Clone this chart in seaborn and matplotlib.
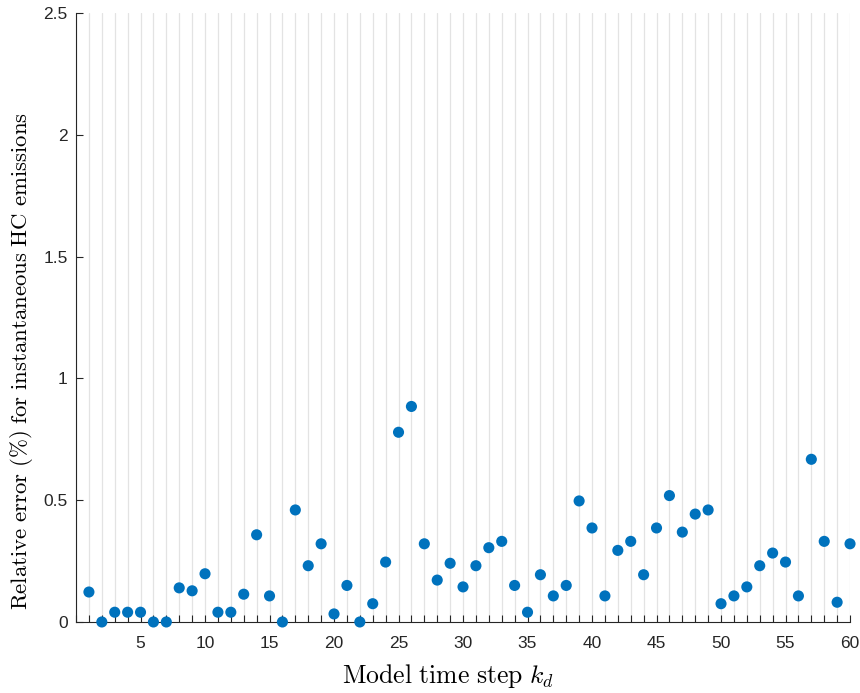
import numpy as np
import pandas as pd
import matplotlib
matplotlib.use("Agg")
import matplotlib.pyplot as plt
from matplotlib.ticker import MultipleLocator
import seaborn as sns

time_step = list(range(1, 61))
rel_error = [0.123, 0.0, 0.04, 0.04, 0.04, 0.0, 0.0, 0.14, 0.128, 0.198,
             0.04, 0.04, 0.114, 0.358, 0.107, 0.0, 0.46, 0.231, 0.321, 0.033,
             0.15, 0.0, 0.075, 0.246, 0.779, 0.885, 0.321, 0.172, 0.241, 0.144,
             0.231, 0.305, 0.331, 0.15, 0.04, 0.194, 0.107, 0.15, 0.497, 0.386,
             0.107, 0.294, 0.331, 0.194, 0.386, 0.519, 0.369, 0.443, 0.46, 0.075,
             0.107, 0.144, 0.231, 0.283, 0.246, 0.107, 0.668, 0.331, 0.081, 0.321]
x_ticks = [5, 10, 15, 20, 25, 30, 35, 40, 45, 50, 55, 60]
y_ticks = [0, 0.5, 1, 1.5, 2, 2.5]
y_tick_labels = ["0", "0.5", "1", "1.5", "2", "2.5"]

df = pd.DataFrame({"k": time_step, "err": rel_error})

sns.set_style("white")
plt.rcParams["font.family"] = ["Liberation Sans", "DejaVu Sans"]
plt.rcParams["mathtext.fontset"] = "cm"

fig = plt.figure(figsize=(8.6, 6.93), dpi=100)
ax = fig.add_axes([0.0884, 0.1025, 0.9, 0.8785])

axcol = "#262626"
ax.xaxis.set_minor_locator(MultipleLocator(1))
ax.grid(True, which="both", axis="x", color="#e3e3e3", linewidth=0.9, zorder=0)
ax.set_axisbelow(True)

sns.scatterplot(data=df, x="k", y="err", ax=ax, color="#0072BD", s=64,
                edgecolor="none", linewidth=0, zorder=3, clip_on=False)

ax.set_xlim(0, 60)
ax.set_ylim(0, 2.5)
ax.set_xticks(x_ticks)
ax.set_xticklabels([str(t) for t in x_ticks])
ax.set_yticks(y_ticks)
ax.set_yticklabels(y_tick_labels)

for s in ["top", "right"]:
    ax.spines[s].set_visible(False)
for s in ["left", "bottom"]:
    ax.spines[s].set_color(axcol)
    ax.spines[s].set_linewidth(0.8)

ax.tick_params(axis="x", which="major", bottom=True, direction="in", length=5, width=0.8,
               color=axcol, labelcolor=axcol, labelsize=12.5, pad=10)
ax.tick_params(axis="y", which="major", left=True, direction="in", length=5, width=0.8,
               color=axcol, labelcolor=axcol, labelsize=12.5, pad=6)
ax.tick_params(axis="x", which="minor", bottom=True, direction="in", length=5, width=0.8, color=axcol)
ax.tick_params(axis="y", which="minor", left=False)

ax.set_xlabel(r"$\mathrm{Model\ time\ step}\ k_d$", fontsize=18.5, color="black")
ax.xaxis.set_label_coords(0.48, -0.0657)
ax.set_ylabel(r"$\mathrm{Relative\ error\ (\%)\ for\ instantaneous\ HC\ emissions}$",
              fontsize=16.4, color="black")
ax.yaxis.set_label_coords(-0.053, 0.4286)

fig.savefig("out.png", dpi=100)
